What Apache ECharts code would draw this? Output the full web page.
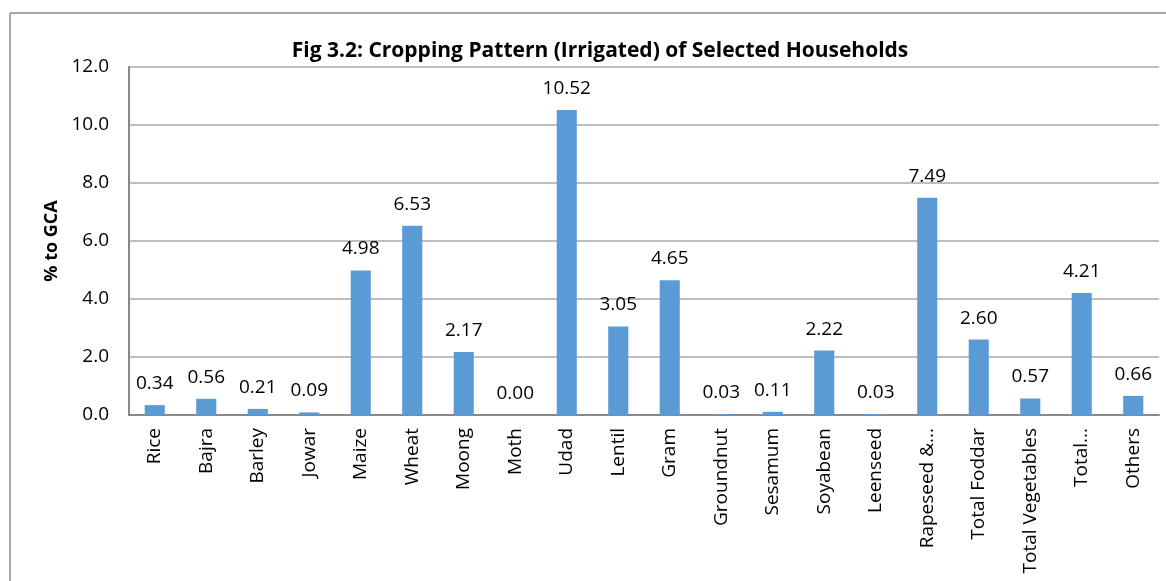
<!DOCTYPE html>
<html>
<head>
<meta charset="utf-8">
<title>Cropping Pattern (Irrigated)</title>
<script src="https://cdn.jsdelivr.net/npm/echarts@6/dist/echarts.min.js"></script>
<style>
  html, body { margin: 0; padding: 0; background: #fff; }
  #chart { width: 1166px; height: 581px; }
</style>
</head>
<body>
<div id="chart"></div>
<script>
// Crops on the category axis
const crops = [
  'Rice', 'Bajra', 'Barley', 'Jowar', 'Maize', 'Wheat', 'Moong', 'Moth',
  'Udad', 'Lentil', 'Gram', 'Groundnut', 'Sesamum', 'Soyabean', 'Leenseed',
  'Rapeseed &...', 'Total Foddar', 'Total Vegetables', 'Total...', 'Others'
];
// Share of gross cropped area (%)
const shareOfGCA = [
  0.34, 0.56, 0.21, 0.09, 4.98, 6.53, 2.17, 0.00, 10.52, 3.05,
  4.65, 0.03, 0.11, 2.22, 0.03, 7.49, 2.60, 0.57, 4.21, 0.66
];
const titleText = 'Fig 3.2: Cropping Pattern (Irrigated) of Selected Households';
const yAxisName = '% to GCA';

const FONT = '"Open Sans", "Liberation Sans", sans-serif';
const chart = echarts.init(document.getElementById('chart'), null, { renderer: 'canvas' });

chart.setOption({
  animation: false,
  backgroundColor: '#ffffff',
  title: {
    text: titleText,
    left: 595,
    top: 36,
    textAlign: 'center',
    textStyle: { fontFamily: FONT, fontSize: 21, fontWeight: 'bold', color: '#000' }
  },
  graphic: [
    // frame edges around the chart area
    { type: 'line', shape: { x1: 10, y1: 13, x2: 1166, y2: 13 }, style: { stroke: '#8c8c8c', lineWidth: 1.5 } },
    { type: 'line', shape: { x1: 10, y1: 13, x2: 10, y2: 581 }, style: { stroke: '#8c8c8c', lineWidth: 1.5 } }
  ],
  grid: { left: 129, right: 7, top: 67, bottom: 166 },
  xAxis: {
    type: 'category',
    data: crops,
    axisLine: { lineStyle: { color: '#898989', width: 2 } },
    axisTick: { show: false },
    axisLabel: {
      interval: 0,
      rotate: 90,
      margin: 13,
      fontFamily: FONT,
      fontSize: 19,
      color: '#000'
    }
  },
  yAxis: {
    type: 'value',
    min: 0,
    max: 12,
    interval: 2,
    name: yAxisName,
    nameLocation: 'middle',
    nameGap: 68,
    nameRotate: 90,
    nameTextStyle: { fontFamily: FONT, fontSize: 18, fontWeight: 'bold', color: '#000' },
    axisLine: { show: true, lineStyle: { color: '#898989', width: 2 } },
    axisTick: { show: false },
    axisLabel: {
      margin: 20,
      fontFamily: FONT,
      fontSize: 19,
      color: '#000',
      formatter: v => v.toFixed(1)
    },
    splitLine: { show: true, lineStyle: { color: '#a8a8a8', width: 1.5 } }
  },
  series: [{
    type: 'bar',
    data: shareOfGCA,
    barWidth: '39%',
    itemStyle: { color: '#5b9bd5' },
    label: {
      show: true,
      position: 'top',
      distance: 12,
      fontFamily: FONT,
      fontSize: 19,
      color: '#000',
      formatter: p => p.value.toFixed(2)
    }
  }]
});
</script>
</body>
</html>
